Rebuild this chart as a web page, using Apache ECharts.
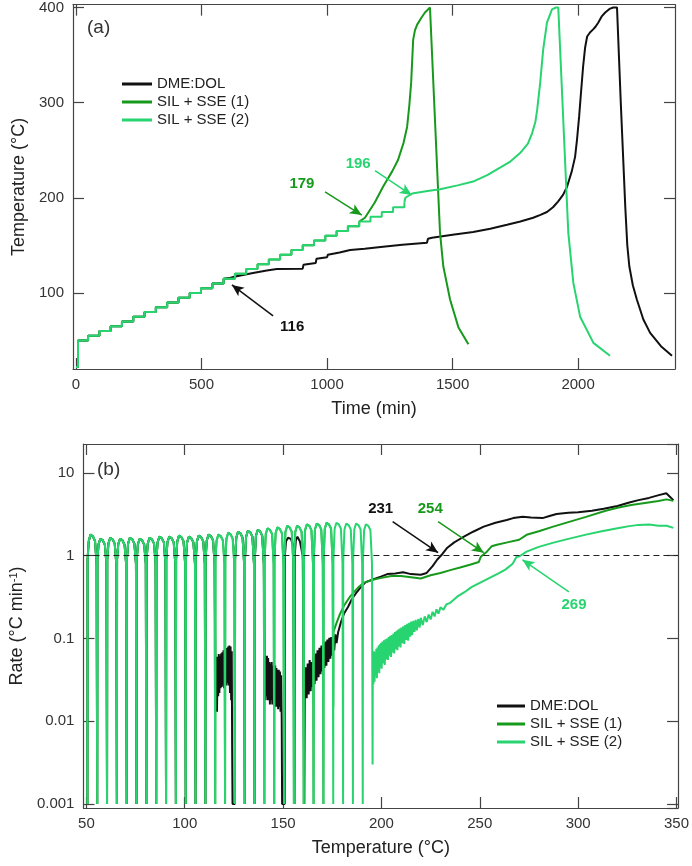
<!DOCTYPE html>
<html>
<head>
<meta charset="utf-8">
<script src="https://cdn.jsdelivr.net/npm/echarts@6/dist/echarts.min.js"></script>
<style>
  html, body { margin: 0; padding: 0; background: #fff; }
  #chart { width: 692px; height: 866px; }
</style>
</head>
<body>
<div id="chart"></div>
<script>
// ---------- panel (a): temperature vs time ----------
// heat-wait-seek staircase: start time (min) of each 5 °C level
var stepTime = [0, 8, 48, 93, 138, 183, 228, 273, 318, 363, 408, 453, 498, 543, 588, 633, 678, 723, 768, 813, 858, 903, 948, 993, 1038, 1083, 1128, 1173, 1218, 1263, 1308];
var stepTemp = [22, 50, 55, 60, 65, 70, 75, 80, 85, 90, 95, 100, 105, 110, 115, 120, 125, 130, 135, 140, 145, 150, 155, 160, 165, 170, 175, 180, 185, 190, 195];

var dmeTail = [[588,115],[615,116],[640,117.5],[705,121],[760,123.5],[800,125],[903,125.5],[906,129.5],[955,131.5],[958,136],[1000,137.5],[1003,140],[1050,142.5],[1092,145],[1150,146.5],[1223,148.6],[1300,150.5],[1398,152.6],[1402,157],[1418,158],[1500,161],[1582,164],[1650,167.5],[1717,171.6],[1770,175],[1821,179],[1850,182],[1876,185],[1900,190],[1920,196],[1940,203],[1956,211.6],[1975,228],[1988,243],[1996,262],[2004,285],[2012,312],[2020,338],[2028,358],[2036,369.5],[2048,374],[2060,377],[2070,380],[2080,384],[2095,391],[2108,394.7],[2125,398.5],[2140,400],[2155,400],[2170,300],[2188,190],[2196,150],[2204,128],[2218,108],[2234,93],[2260,72],[2287,58],[2330,44],[2374,34]];
var sse1Tail = [[1128,175],[1151,179],[1190,195],[1223,211.6],[1260,228],[1283,240],[1305,258],[1319,274.7],[1328,298],[1335,321],[1343,366],[1350,376],[1359,382],[1375,389],[1390,394.7],[1410,400],[1417,400],[1444,198],[1450,163],[1463,128],[1490,93],[1523,64],[1563,46]];
var sse2Tail = [[1308,195],[1312,200],[1339,204.5],[1400,207],[1450,209],[1520,213],[1582,217],[1640,224],[1689,231.6],[1730,238],[1769,247],[1800,257],[1817,268],[1830,280],[1837,292.6],[1849,321],[1861,356],[1876,384],[1896,398],[1912,400],[1921,400],[1955,198],[1961,163],[1981,110.5],[2008,75],[2061,47.5],[2127,34]];

// ---------- panel (b): rate vs temperature ----------
// HWS cycles (heating arch, then wait drop to the floor)
var hwsRate = [
  [50.5,0.001],[50.6,0.9],[51.2,1.5],[52.1,1.8],[53.3,1.72],[54.4,1.5],[55.2,0.8],
  [55.5,0.001],[55.6,0.9],[56.2,1.38],[57.1,1.6],[58.3,1.54],[59.4,1.36],[60.2,0.8],
  [60.5,0.001],[60.6,0.9],[61.2,1.4],[62.1,1.65],[63.3,1.58],[64.4,1.4],[65.2,0.8],
  [65.5,0.001],[65.6,0.9],[66.2,1.38],[67.1,1.6],[68.3,1.54],[69.4,1.36],[70.2,0.8],
  [70.5,0.001],[70.6,0.9],[71.2,1.4],[72.1,1.65],[73.3,1.58],[74.4,1.4],[75.2,0.8],
  [75.5,0.001],[75.6,0.9],[76.2,1.38],[77.1,1.6],[78.3,1.54],[79.4,1.36],[80.2,0.8],
  [80.5,0.001],[80.6,0.9],[81.2,1.4],[82.1,1.65],[83.3,1.58],[84.4,1.4],[85.2,0.8],
  [85.5,0.001],[85.6,0.9],[86.2,1.45],[87.1,1.7],[88.3,1.63],[89.4,1.45],[90.2,0.8],
  [90.5,0.001],[90.6,0.9],[91.2,1.45],[92.1,1.7],[93.3,1.63],[94.4,1.45],[95.2,0.8],
  [95.5,0.001],[95.6,0.9],[96.2,1.49],[97.1,1.75],[98.3,1.68],[99.4,1.49],[100.2,0.8],
  [100.5,0.001],[100.6,0.9],[101.2,1.45],[102.1,1.7],[103.3,1.63],[104.4,1.45],[105.2,0.8],
  [105.5,0.001],[105.6,0.9],[106.2,1.49],[107.1,1.75],[108.3,1.68],[109.4,1.49],[110.2,0.8],
  [110.5,0.001],[110.6,0.9],[111.2,1.53],[112.1,1.8],[113.3,1.73],[114.4,1.53],[115.2,0.8],
  [115.5,0.001],[115.6,0.9],[116.2,1.53],[117.1,1.8],[118.3,1.73],[119.4,1.53],[120.2,0.8],
  [120.5,0.001],[120.6,0.9],[121.2,1.6],[122.1,1.9],[123.3,1.82],[124.4,1.6],[125.2,0.8],
  [125.5,0.001],[125.6,0.9],[126.2,1.65],[127.1,1.95],[128.3,1.87],[129.4,1.65],[130.2,0.8],
  [130.5,0.001],[130.6,0.9],[131.2,1.7],[132.1,2.0],[133.3,1.92],[134.4,1.7],[135.2,0.8],
  [135.5,0.001],[135.6,0.9],[136.2,1.74],[137.1,2.05],[138.3,1.97],[139.4,1.74],[140.2,0.8],
  [140.5,0.001],[140.6,0.9],[141.2,1.83],[142.1,2.15],[143.3,2.06],[144.4,1.83],[145.2,0.8],
  [145.5,0.001],[145.6,0.9],[146.2,1.87],[147.1,2.2],[148.3,2.11],[149.4,1.87],[150.2,0.8],
  [150.5,0.001],[150.6,0.9],[151.2,1.95],[152.1,2.3],[153.3,2.2],[154.4,1.95],[155.2,0.8],
  [155.5,0.001],[155.6,0.9],[156.2,1.95],[157.1,2.3],[158.3,2.2],[159.4,1.95],[160.2,0.8],
  [160.5,0.001],[160.6,0.9],[161.2,2.04],[162.1,2.4],[163.3,2.3],[164.4,2.04],[165.2,0.8],
  [165.5,0.001],[165.6,0.9],[166.2,2.08],[167.1,2.45],[168.3,2.35],[169.4,2.08],[170.2,0.8],
  [170.5,0.001],[170.6,0.9],[171.2,2.12],[172.1,2.5],[173.3,2.4],[174.4,2.12],[175.2,0.8],
  [175.5,0.001],[175.6,0.9],[176.2,2.12],[177.1,2.5],[178.3,2.4],[179.4,2.12],[180.2,0.8],
  [180.5,0.001],[180.6,0.9],[181.2,2.08],[182.1,2.45],[183.3,2.35],[184.4,2.08],[185.2,0.8],
  [185.5,0.001],[185.6,0.9],[186.2,2.08],[187.1,2.45],[188.3,2.35],[189.4,2.08],[190.2,0.8],
  [190.5,0.001],[190.6,0.9],[191.2,2.04],[192.1,2.4],[193.3,2.3],[194.4,2.04],[195.2,0.8]
];

var dmeBlob1 = [[115.5,0.065],[115.8,0.02],[116.1,0.06],[116.4,0.013],[116.7,0.06],[117,0.02],[117.3,0.065],[117.6,0.022],[117.9,0.062],[118.2,0.025],[118.5,0.066],[118.8,0.026],[119.1,0.068],[119.4,0.027],[119.7,0.072],[120,0.025],[120.3,0.07],[120.6,0.028],[120.9,0.075],[121.2,0.027],[121.5,0.077],[121.8,0.029],[122.1,0.08],[122.4,0.027],[122.7,0.082],[123,0.022],[123.3,0.08],[123.6,0.018],[123.9,0.07],[124.1,0.005],[124.3,0.001]];
var dmeBlob2 = [[140.6,0.058],[140.9,0.018],[141.2,0.062],[141.5,0.02],[141.8,0.062],[142.1,0.018],[142.4,0.058],[142.7,0.018],[143,0.052],[143.3,0.016],[143.6,0.05],[143.9,0.018],[144.2,0.052],[144.5,0.016],[144.8,0.047],[145.1,0.018],[145.4,0.052],[145.7,0.015],[146,0.047],[146.3,0.015],[146.6,0.044],[146.9,0.015],[147.2,0.042],[147.5,0.014],[147.8,0.042],[148.1,0.015],[148.4,0.04],[148.7,0.013],[149,0.036],[149.3,0.011],[149.5,0.001]];
var dmeLate = [[150.8,0.001],[150.9,1.0],[151.5,1.5],[152.5,1.65],[154,1.6],[155.2,1.3],[155.8,0.001],[155.9,1.0],[156.5,1.55],[157.3,1.7],[158.5,1.5],[160,1.0],[160.8,0.001],
  [161,0.019],[161.5,0.045],[162,0.019],[162.5,0.05],[163,0.021],[163.5,0.055],[164,0.023],[164.5,0.052],[165,0.026],[165.5,0.06],[166,0.028],[166.5,0.066],[167,0.031],[167.5,0.072],[168,0.034],[168.5,0.077],[169,0.037],[169.5,0.082],[170,0.04],[170.5,0.087],[171,0.044],[171.5,0.092],[172,0.047],[172.5,0.097],[173,0.052],[173.5,0.102],[174,0.057],[174.5,0.104],[175,0.062],[175.5,0.108],[176,0.072],[176.6,0.112],[177.2,0.088],[178,0.12],
  [179.5,0.16],[181,0.2],[183,0.24],[185,0.3],[187,0.35],[189.6,0.42],[192,0.48],[196,0.52],[199.7,0.56],[203,0.6],[207,0.61],[211,0.63],[215,0.6],[220,0.59],[223,0.62],[226,0.75],[228.4,0.9],[231,1.05],[233.5,1.25],[237,1.45],[241,1.65],[246.6,1.95],[252,2.25],[258,2.5],[263.7,2.7],[267,2.85],[271.8,2.95],[276,2.9],[281.9,2.85],[285,3.0],[289,3.2],[295,3.3],[300,3.35],[307,3.5],[313,3.7],[320,4.0],[326,4.4],[330.7,4.7],[336,5.0],[341,5.4],[344.8,5.7],[346.5,5.2],[348.4,4.7]];
var sse1Late = [[175.5,0.015],[175.6,0.12],[177,0.15],[179,0.2],[181,0.25],[184,0.32],[188,0.41],[191,0.47],[195,0.51],[200,0.54],[205,0.57],[210,0.57],[215,0.55],[220,0.53],[225,0.58],[230,0.62],[235,0.67],[240,0.72],[245,0.78],[249.5,0.84],[250.5,0.97],[253.6,1.12],[256,1.3],[258.7,1.36],[264,1.45],[270,1.56],[273.8,1.79],[280,1.98],[286.9,2.23],[295,2.55],[304,2.95],[314,3.5],[320,3.8],[327,4.1],[334,4.35],[340.8,4.6],[345,4.8],[348.4,4.6]];
var sse2Late = [[195.5,0.003],[195.6,0.06],[195.9,0.028],[196.2,0.07],[196.5,0.03],[196.8,0.068],[197.1,0.035],[197.4,0.075],[197.7,0.033],[198,0.078],[198.3,0.04],[198.6,0.082],[198.9,0.038],[199.2,0.085],[199.5,0.045],[199.8,0.088],[200.1,0.043],[200.5,0.092],[200.9,0.05],[201.3,0.095],[201.7,0.048],[202.1,0.098],[202.5,0.056],[202.9,0.1],[203.3,0.055],[203.7,0.104],[204.1,0.062],[204.5,0.108],[204.9,0.06],[205.3,0.11],[205.7,0.068],[206.1,0.115],[206.5,0.066],[206.9,0.12],[207.3,0.074],[207.7,0.124],[208.1,0.072],[208.5,0.128],[208.9,0.08],[209.3,0.132],[209.7,0.078],[210.1,0.136],[210.6,0.088],[211.1,0.14],[211.6,0.086],[212.1,0.145],[212.6,0.096],[213.1,0.15],[213.6,0.094],[214.1,0.155],[214.6,0.105],[215.1,0.16],[215.6,0.11],[216.2,0.163],[216.8,0.12],[217.4,0.168],[218,0.125],[218.7,0.172],[219.4,0.135],[220,0.178],[221,0.145],[222,0.185],[223,0.158],[224,0.195],[225,0.17],[226,0.21],[227,0.185],[228,0.225],[229,0.2],[230,0.238],[231.5,0.222],[233,0.258],[235,0.27],[238.5,0.32],[242,0.36],[246,0.42],[250,0.47],[255,0.54],[260,0.62],[263,0.68],[266.7,0.8],[268.7,0.97],[270,0.98],[273.8,1.12],[280,1.28],[287,1.43],[295,1.6],[304,1.8],[312,1.98],[320.7,2.17],[326,2.28],[330.8,2.36],[336,2.38],[340.8,2.3],[345,2.3],[348.4,2.17]];

var names = ['DME:DOL', 'SIL + SSE (1)', 'SIL + SSE (2)'];
var xTicksA = [0, 500, 1000, 1500, 2000];
var yTicksA = [100, 200, 300, 400];
var xTicksB = [50, 100, 150, 200, 250, 300, 350];

(function(){
    var FONT = '"Liberation Sans", Arial, sans-serif';
    var cDme = '#111111', cSse1 = '#17991b', cSse2 = '#27d46f';
    var chart = echarts.init(document.getElementById('chart'));

    function zip(t, v, n) {
        var out = [];
        for (var i = 0; i < n; i++) out.push([t[i], v[i]]);
        return out;
    }
    function between(arr, lo, hi) {
        return arr.filter(function (p) { return p[0] >= lo && p[0] < hi; });
    }
    var dmeSteps = zip(stepTime, stepTemp, 15);
    var sse1Steps = zip(stepTime, stepTemp, 27);
    var sse2Steps = zip(stepTime, stepTemp, 31);

    var dmeRate = between(hwsRate, 0, 115.5).concat(dmeBlob1, between(hwsRate, 125.5, 140.5), dmeBlob2, dmeLate);
    var sse1Rate = between(hwsRate, 0, 175.5).concat(sse1Late);
    var sse2Rate = hwsRate.concat(sse2Late);

    var plain = function (v) { return String(v); };
    var axisLine = { show: true, onZero: false, lineStyle: { color: '#444', width: 1.2 } };
    function xAx(grid, min, max, ticks, pos, name) {
        return {
            type: 'value', gridIndex: grid, min: min, max: max, position: pos,
            axisLine: axisLine,
            axisTick: { show: true, inside: true, length: 11, customValues: ticks, lineStyle: { color: '#444', width: 1.2 } },
            axisLabel: { show: pos === 'bottom', customValues: ticks, formatter: plain, fontSize: 15, color: '#333', margin: 8, fontFamily: FONT },
            splitLine: { show: false },
            name: name, nameLocation: 'middle', nameGap: 31,
            nameTextStyle: { fontSize: 18, color: '#222', fontFamily: FONT }
        };
    }
    function tag(text, color, coord) {
        return {
            coord: coord, symbol: 'rect', symbolSize: 1, itemStyle: { color: 'rgba(0,0,0,0)' },
            label: { show: true, position: 'inside', formatter: text, color: color, fontSize: 15, fontWeight: 'bold', fontFamily: FONT }
        };
    }
    function arrow(color, from, to) {
        return {
            silent: true, symbol: ['none', 'arrow'], symbolSize: [8, 12],
            lineStyle: { color: color, width: 1.5, type: 'solid' },
            label: { show: false },
            data: [[{ coord: from }, { coord: to }]]
        };
    }
    function line(name, color, x, y, data, w, extra) {
        var s = {
            name: name, type: 'line', xAxisIndex: x, yAxisIndex: y, data: data,
            symbol: 'none', showSymbol: false, clip: true,
            lineStyle: { color: color, width: w }, itemStyle: { color: color }
        };
        for (var k in extra) s[k] = extra[k];
        return s;
    }

    var option = {
        animation: false,
        backgroundColor: '#fff',
        textStyle: { fontFamily: FONT },
        title: [
            { text: '(a)', left: 87, top: 18, padding: 0, textStyle: { fontSize: 19, fontWeight: 'normal', color: '#333', fontFamily: FONT } },
            { text: '(b)', left: 97, top: 460, padding: 0, textStyle: { fontSize: 19, fontWeight: 'normal', color: '#333', fontFamily: FONT } }
        ],
        legend: [
            { data: names, orient: 'vertical', left: 122, top: 76, icon: 'rect', itemWidth: 30, itemHeight: 3, itemGap: 2, padding: 0, selectedMode: false,
              textStyle: { fontSize: 15, color: '#222', fontFamily: FONT, lineHeight: 16 } },
            { data: names, orient: 'vertical', left: 497, top: 698, icon: 'rect', itemWidth: 28, itemHeight: 3, itemGap: 2, padding: 0, selectedMode: false,
              textStyle: { fontSize: 15, color: '#222', fontFamily: FONT, lineHeight: 16 } }
        ],
        grid: [
            { left: 73, top: 4, width: 602, height: 365 },
            { left: 80, top: 444, width: 600, height: 364 }
        ],
        xAxis: [
            xAx(0, -12, 2386, xTicksA, 'bottom', 'Time (min)'),
            xAx(0, -12, 2386, xTicksA, 'top', ''),
            xAx(1, 48.5, 350.8, xTicksB, 'bottom', 'Temperature (°C)'),
            xAx(1, 48.5, 350.8, xTicksB, 'top', '')
        ],
        yAxis: [
            {
                type: 'value', gridIndex: 0, min: 20, max: 403, position: 'left',
                axisLine: axisLine,
                axisTick: { show: true, inside: true, length: 11, customValues: yTicksA, lineStyle: { color: '#444', width: 1.2 } },
                axisLabel: { customValues: yTicksA, formatter: plain, fontSize: 15, color: '#333', margin: 9, fontFamily: FONT },
                splitLine: { show: false },
                name: 'Temperature (°C)', nameLocation: 'middle', nameGap: 45,
                nameTextStyle: { fontSize: 18, color: '#222', fontFamily: FONT }
            },
            {
                type: 'value', gridIndex: 0, min: 20, max: 403, position: 'right',
                axisLine: axisLine,
                axisTick: { show: true, inside: true, length: 11, customValues: yTicksA, lineStyle: { color: '#444', width: 1.2 } },
                axisLabel: { show: false },
                splitLine: { show: false }
            },
            {
                type: 'log', logBase: 10, gridIndex: 1, min: 0.000895, max: 22.4, position: 'left',
                axisLine: axisLine,
                axisTick: { show: true, inside: true, length: 11, lineStyle: { color: '#444', width: 1.2 } },
                axisLabel: { showMinLabel: false, showMaxLabel: false, fontSize: 15, color: '#333', margin: 9, fontFamily: FONT },
                minorTick: { show: false },
                splitLine: { show: false },
                name: 'Rate (°C min{sup|-1})', nameLocation: 'middle', nameGap: 52,
                nameTextStyle: { fontSize: 18, color: '#222', fontFamily: FONT,
                    rich: { sup: { fontSize: 11, color: '#222', verticalAlign: 'top', fontFamily: FONT } } }
            },
            {
                type: 'log', logBase: 10, gridIndex: 1, min: 0.000895, max: 22.4, position: 'right',
                axisLine: axisLine,
                axisTick: { show: true, inside: true, length: 11, lineStyle: { color: '#444', width: 1.2 } },
                axisLabel: { show: false },
                splitLine: { show: false }
            }
        ],
        series: [
            // panel (a)
            line(names[0], cDme, 0, 0, dmeSteps, 2, { step: 'end' }),
            line(names[0], cDme, 0, 0, dmeTail, 2, {
                markLine: arrow(cDme, [785, 75.9], [621, 108.4]),
                markPoint: { data: [tag('116', cDme, [861, 64.3])] }
            }),
            line(names[1], cSse1, 0, 0, sse1Steps, 2, { step: 'end' }),
            line(names[1], cSse1, 0, 0, sse1Tail, 2, {
                markLine: arrow(cSse1, [992, 206.3], [1138, 181.8]),
                markPoint: { data: [tag('179', cSse1, [900, 215])] }
            }),
            line(names[2], cSse2, 0, 0, sse2Steps, 2, { step: 'end' }),
            line(names[2], cSse2, 0, 0, sse2Tail, 2, {
                markLine: arrow(cSse2, [1191, 228.4], [1337, 202.8]),
                markPoint: { data: [tag('196', cSse2, [1124, 235.4])] }
            }),
            // panel (b)
            line(names[0], cDme, 2, 2, dmeRate, 2, {
                markLine: arrow(cDme, [205.7, 2.58], [228.8, 1.087]),
                markPoint: { data: [tag('231', cDme, [199.6, 3.7])] }
            }),
            line(names[1], cSse1, 2, 2, sse1Rate, 2, {
                markLine: arrow(cSse1, [228.8, 2.58], [252, 1.087]),
                markPoint: { data: [tag('254', cSse1, [224.8, 3.7])] }
            }),
            line(names[2], cSse2, 2, 2, sse2Rate, 2, {
                markLine: arrow(cSse2, [295.3, 0.367], [271.7, 0.894]),
                markPoint: { data: [tag('269', cSse2, [297.9, 0.256])] }
            }),
            {
                name: 'ref', type: 'line', xAxisIndex: 2, yAxisIndex: 2, data: [], symbol: 'none',
                markLine: {
                    silent: true, symbol: ['none', 'none'], label: { show: false },
                    lineStyle: { color: '#222', width: 1.2, type: [6, 4] },
                    data: [{ yAxis: 1 }]
                }
            }
        ]
    };
    chart.setOption(option);
    window.addEventListener('resize', function () { chart.resize(); });
})();
</script>
</body>
</html>
